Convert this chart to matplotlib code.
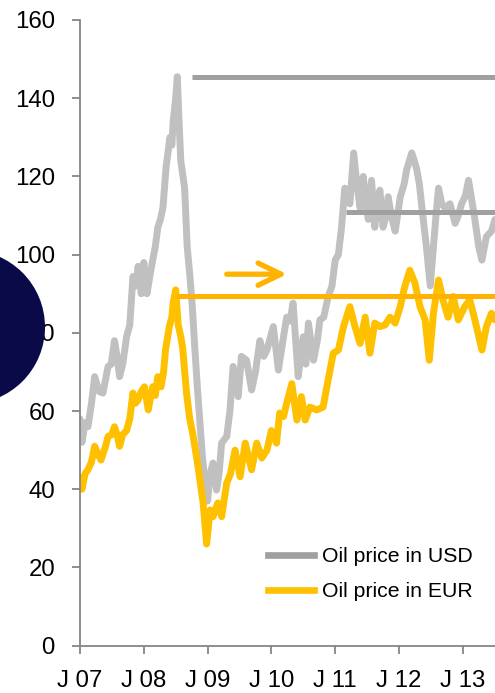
import matplotlib
matplotlib.use("Agg")
import matplotlib.pyplot as plt
from matplotlib.lines import Line2D
from matplotlib.patches import Circle, ArrowStyle

plt.rcParams['font.family'] = ['Liberation Sans', 'DejaVu Sans']

# ---- data (decimal years, price) ----
usd_years = [2007.00, 2007.03, 2007.08, 2007.125, 2007.18, 2007.23, 2007.30, 2007.36, 2007.44, 2007.49,
             2007.54, 2007.58, 2007.62, 2007.67, 2007.73, 2007.78, 2007.83, 2007.88, 2007.91, 2007.96,
             2008.00, 2008.05, 2008.10, 2008.14, 2008.18, 2008.22, 2008.26, 2008.30, 2008.35, 2008.41,
             2008.44, 2008.46, 2008.50, 2008.525, 2008.55, 2008.58, 2008.64, 2008.68, 2008.72, 2008.755,
             2008.80, 2008.84, 2008.88, 2008.92, 2008.96, 2009.00, 2009.04, 2009.085, 2009.14, 2009.18,
             2009.22, 2009.30, 2009.35, 2009.40, 2009.48, 2009.53, 2009.61, 2009.69, 2009.75, 2009.82,
             2009.88, 2009.93, 2010.03, 2010.11, 2010.19, 2010.24, 2010.29, 2010.34, 2010.42, 2010.46,
             2010.50, 2010.54, 2010.58, 2010.66, 2010.72, 2010.76, 2010.82, 2010.89, 2010.95, 2011.00,
             2011.05, 2011.10, 2011.15, 2011.23, 2011.29, 2011.34, 2011.39, 2011.44, 2011.48, 2011.52,
             2011.57, 2011.62, 2011.66, 2011.70, 2011.75, 2011.80, 2011.83, 2011.88, 2011.94, 2012.02,
             2012.08, 2012.12, 2012.20, 2012.24, 2012.28, 2012.32, 2012.36, 2012.43, 2012.49, 2012.54,
             2012.58, 2012.62, 2012.67, 2012.72, 2012.80, 2012.88, 2012.93, 2012.98, 2013.04, 2013.09,
             2013.14, 2013.19, 2013.25, 2013.30, 2013.37, 2013.45, 2013.505]
usd_values = [58, 52, 57, 56, 62, 68.8, 65, 64.6, 71.4, 72,
              78, 74, 68.8, 72, 79, 82, 94.4, 92, 97, 90,
              98, 90, 95, 98.6, 102, 107, 109, 112, 122.5, 130,
              128, 134, 140, 145.5, 135, 124, 117, 102, 95, 88,
              76, 66, 57, 48, 42, 37, 44, 46.7, 39.8, 44,
              51.8, 53.5, 60, 71.4, 63.7, 74, 73, 65.4, 70, 78,
              74, 75.6, 81.6, 70.5, 79, 84, 83, 87.6, 68.8, 74,
              79, 72, 82.5, 73, 78, 83.3, 84, 89.3, 92, 98.6,
              100, 107, 117, 113, 126, 118, 112, 120, 113, 109,
              119, 107, 113, 116.5, 107, 110, 114.8, 110, 106, 114.8,
              118, 121.7, 126, 124, 121.7, 118, 112, 102, 92, 102,
              110, 117, 113, 112, 113, 108, 110, 113, 115, 119,
              114, 109, 102, 98.6, 104.6, 106, 109]

eur_years = [2007.00, 2007.03, 2007.08, 2007.125, 2007.18, 2007.23, 2007.28, 2007.33, 2007.40, 2007.44,
             2007.50, 2007.54, 2007.58, 2007.62, 2007.67, 2007.73, 2007.78, 2007.83, 2007.87, 2007.91,
             2007.96, 2008.01, 2008.07, 2008.10, 2008.14, 2008.18, 2008.22, 2008.27, 2008.31, 2008.34,
             2008.40, 2008.44, 2008.46, 2008.50, 2008.54, 2008.58, 2008.61, 2008.67, 2008.72, 2008.77,
             2008.85, 2008.93, 2008.985, 2009.04, 2009.085, 2009.16, 2009.22, 2009.30, 2009.36, 2009.43,
             2009.51, 2009.59, 2009.69, 2009.77, 2009.85, 2009.93, 2010.00, 2010.08, 2010.13, 2010.19,
             2010.24, 2010.32, 2010.40, 2010.47, 2010.53, 2010.605, 2010.71, 2010.81, 2010.89, 2010.97,
             2011.05, 2011.13, 2011.23, 2011.31, 2011.39, 2011.47, 2011.545, 2011.62, 2011.70, 2011.78,
             2011.86, 2011.94, 2012.02, 2012.09, 2012.17, 2012.25, 2012.33, 2012.41, 2012.475, 2012.54,
             2012.62, 2012.69, 2012.77, 2012.85, 2012.93, 2013.03, 2013.11, 2013.19, 2013.30, 2013.37,
             2013.45, 2013.505]
eur_values = [43, 40, 44, 45, 47, 51, 49, 47.5, 51, 53.5,
              54, 56, 54, 51, 54, 55, 58, 64.6, 62, 62.8,
              65, 66.2, 60.3, 63, 66.2, 64, 68.8, 66.2, 70, 75.6,
              81.6, 84, 87.6, 91, 82, 79, 76, 64.6, 58, 54,
              45.8, 36.5, 26, 34.7, 33, 36.5, 33, 41.6, 44, 50,
              43.2, 51.8, 45, 51.8, 48, 50, 55, 51.8, 59.5, 58.6,
              62, 67, 57.7, 63.7, 57.7, 61, 60.3, 61, 68, 74.8,
              75.6, 81.6, 86.7, 81.6, 77.3, 84, 74.8, 82.5, 81.6, 82,
              84, 82.5, 86.7, 91.8, 96, 92.7, 86.7, 83.3, 73, 85,
              93.5, 88.4, 84, 89.3, 83.3, 86.7, 88.4, 83.3, 75.6, 81.6,
              85, 83.3]

# reference levels: (start year, level)
usd_peak_start, usd_peak_level = 2008.755, 145.3
usd_avg_start, usd_avg_level = 2011.17, 110.9
eur_peak_start, eur_peak_level = 2008.515, 89.5

tick_years = [2007, 2008, 2009, 2010, 2011, 2012, 2013]
tick_labels = ["J 07", "J 08", "J 09", "J 10", "J 11", "J 12", "J 13"]
y_ticks = [0, 20, 40, 60, 80, 100, 120, 140, 160]
legend_labels = ["Oil price in USD", "Oil price in EUR"]

X_MAX = 2013.505

USD_COLOR = "#c0c0c0"
USD_DARK = "#a0a0a0"
EUR_COLOR = "#ffc000"
EUR_DARK = "#ffb200"
AXIS_COLOR = "#868686"

fig = plt.figure(figsize=(4.95, 6.93), dpi=100)
ax = fig.add_axes([80/495, 1 - 645.7/693, 1 - 80/495, (645.7 - 20)/693])

ax.plot(usd_years, usd_values, color=USD_COLOR, lw=5.0, solid_joinstyle='round',
        solid_capstyle='round', zorder=2)
ax.plot(eur_years, eur_values, color=EUR_COLOR, lw=5.0, solid_joinstyle='round',
        solid_capstyle='round', zorder=3)

ax.hlines(usd_peak_level, usd_peak_start, X_MAX, color=USD_DARK, lw=3.6, zorder=4)
ax.hlines(usd_avg_level, usd_avg_start, X_MAX, color=USD_DARK, lw=3.6, zorder=4)
ax.hlines(eur_peak_level, eur_peak_start, X_MAX, color=EUR_DARK, lw=3.6, zorder=4)

ax.annotate("", xy=(2010.245, 95), xytext=(2009.30, 95),
            arrowprops=dict(arrowstyle=ArrowStyle("->", head_length=16.5, head_width=8),
                            mutation_scale=1, color=EUR_DARK, lw=3.8,
                            shrinkA=0, shrinkB=0, capstyle='round', joinstyle='round'),
            zorder=5)

ax.set_xlim(2007, X_MAX)
ax.set_ylim(0, 160)
ax.set_xticks(tick_years)
ax.set_xticklabels(tick_labels)
ax.set_yticks(y_ticks)

for s in ['top', 'right']:
    ax.spines[s].set_visible(False)
for s in ['left', 'bottom']:
    ax.spines[s].set_color(AXIS_COLOR)
    ax.spines[s].set_linewidth(1.3)
    ax.spines[s].set_zorder(6)

ax.tick_params(axis='y', direction='out', length=6, width=1.3, color=AXIS_COLOR,
               labelsize=17.3, pad=12, labelcolor='black')
ax.tick_params(axis='x', direction='out', length=5.5, width=1.3, color=AXIS_COLOR,
               labelsize=17.3, pad=12, labelcolor='black')

handles = [Line2D([], [], color=USD_DARK, lw=4.8),
           Line2D([], [], color=EUR_COLOR, lw=4.8)]
fig.legend(handles, legend_labels, loc='upper left',
           bbox_to_anchor=(268/495, 1 - 547/693), bbox_transform=fig.transFigure,
           frameon=False, fontsize=15.3, handlelength=2.15, handletextpad=0.4,
           borderpad=0, borderaxespad=0, labelspacing=0.75)

# dark navy circle at the left edge
circ = Circle((-0.319, (693 - 327) / 100), 0.769, transform=fig.dpi_scale_trans,
              facecolor="#0a0a48", edgecolor='none', zorder=20)
fig.add_artist(circ)

fig.savefig("out.png", dpi=100)
